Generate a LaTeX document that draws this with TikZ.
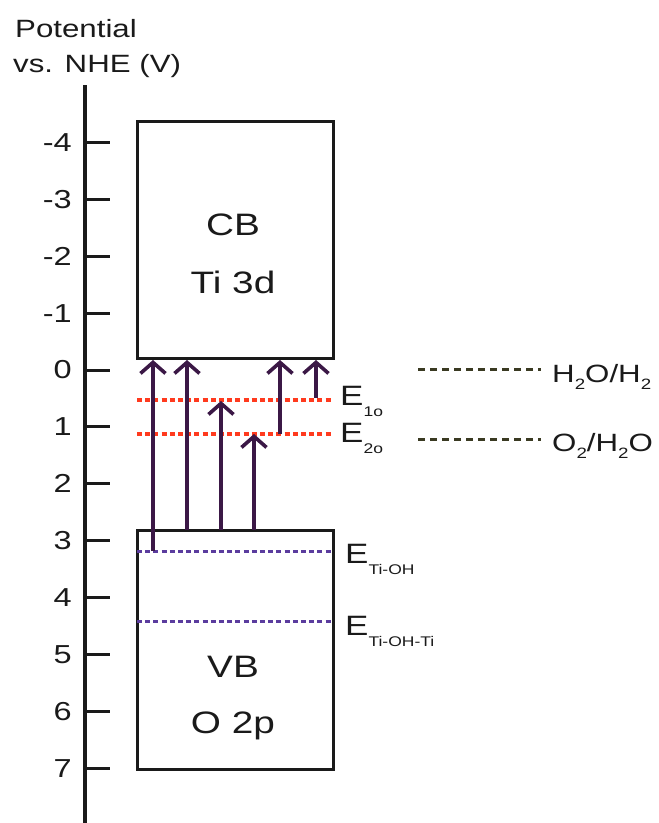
\documentclass[tikz,border=0pt]{standalone}
\usepackage{fontspec}
\setmainfont{Liberation Sans}[FakeStretch=1.25]
\usetikzlibrary{arrows.meta}
\definecolor{ink}{HTML}{1A1A1A}
\definecolor{arrowc}{HTML}{3B1846}
\definecolor{redl}{HTML}{FF3A1E}
\definecolor{purl}{HTML}{5B3C9E}
\definecolor{olive}{HTML}{3A3A22}
\newcommand{\subtx}[2]{\raisebox{-0.4em}{\fontsize{#1}{#1}\selectfont #2}}
\begin{document}
\begin{tikzpicture}[x=1pt,y=-1pt,
  band/.style={draw=ink,line width=3pt,minimum width=196pt,inner sep=0pt},
  axisline/.style={draw=ink,line width=3.8pt},
  tickline/.style={draw=ink,line width=3pt},
  ticklab/.style={anchor=east,inner sep=0pt,font=\fontsize{26}{30}\selectfont,text=ink},
  bigtxt/.style={anchor=base,inner sep=0pt,font=\fontsize{31}{38}\selectfont,text=ink},
  lab/.style={anchor=base west,inner sep=0pt,font=\fontsize{25}{30}\selectfont,text=ink},
  elab/.style={anchor=base west,inner sep=0pt,font=\fontsize{28}{34}\selectfont,text=ink},
  arr/.style={draw=arrowc,line width=3.8pt,-{Straight Barb[length=11pt,width=25pt,line width=3.6pt]}},
  redlev/.style={draw=redl,line width=3.2pt,dash pattern=on 5pt off 3.2pt},
  purlev/.style={draw=purl,line width=3pt,dash pattern=on 5pt off 3.2pt},
  redox/.style={draw=olive,line width=3pt,dash pattern=on 7pt off 5pt}]
\useasboundingbox (0,0) rectangle (659,823);
% axis title
\node[lab] (t1) at (15,37) {Potential};
\node[lab] (t2) at (13,72) {vs. NHE (V)};
% axis
\coordinate (axtop) at (85,85);
\coordinate (axbot) at (85,823);
\draw[axisline] (axtop) -- (axbot);
\foreach \v/\y in {-4/142.4,-3/199.3,-2/256.2,-1/313.1,0/370,1/426.9,2/483.8,3/540.7,4/597.6,5/654.5,6/711.4,7/768.3}{
  \coordinate (tk\v) at (86,\y);
  \coordinate (te\v) at (110,\y);
  \draw[tickline] (tk\v) -- (te\v);
  \node[ticklab] (tl\v) at (72,\y) {\v};
}
% bands
\node[band,minimum height=237pt] (cb) at (235,239.5) {};
\node[band,minimum height=239pt] (vb) at (235,649.5) {};
\node[bigtxt] (cbt) at (233,235) {CB};
\node[bigtxt] (cbs) at (233,293) {Ti 3d};
\node[bigtxt] (vbt) at (233,677) {VB};
\node[bigtxt] (vbs) at (233,733) {O 2p};
% defect levels
\coordinate (e1l) at (137,400); \coordinate (e1r) at (333,400);
\coordinate (e2l) at (137,434); \coordinate (e2r) at (333,434);
\coordinate (e3l) at (137,551); \coordinate (e3r) at (333,551);
\coordinate (e4l) at (137,621); \coordinate (e4r) at (333,621);
\draw[redlev] (e1l) -- (e1r);
\draw[redlev] (e2l) -- (e2r);
\draw[purlev] (e3l) -- (e3r);
\draw[purlev] (e4l) -- (e4r);
\node[elab] (e1t) at (340,405) {E\subtx{14}{1o}};
\node[elab] (e2t) at (340,442) {E\subtx{14}{2o}};
\node[elab] (e3t) at (345,563) {E\subtx{14}{Ti-OH}};
\node[elab] (e4t) at (345,635) {E\subtx{14}{Ti-OH-Ti}};
% redox levels
\coordinate (r1l) at (418,369); \coordinate (r1r) at (541,369);
\coordinate (r2l) at (418,439); \coordinate (r2r) at (541,439);
\draw[redox] (r1l) -- (r1r);
\draw[redox] (r2l) -- (r2r);
\node[lab] (r1t) at (552,382) {H\raisebox{-0.3em}{\fontsize{15}{15}\selectfont 2}O/H\raisebox{-0.3em}{\fontsize{15}{15}\selectfont 2}};
\node[lab] (r2t) at (552,451) {O\raisebox{-0.3em}{\fontsize{15}{15}\selectfont 2}/H\raisebox{-0.3em}{\fontsize{15}{15}\selectfont 2}O};
% transitions
\coordinate (a1s) at (153,551); \coordinate (a1e) at (153,360);
\coordinate (a2s) at (187,530); \coordinate (a2e) at (187,360);
\coordinate (a3s) at (221,530); \coordinate (a3e) at (221,401);
\coordinate (a4s) at (254,530); \coordinate (a4e) at (254,434);
\coordinate (a5s) at (280,434); \coordinate (a5e) at (280,360);
\coordinate (a6s) at (316,398); \coordinate (a6e) at (316,360);
\draw[arr] (a1s) -- (a1e);
\draw[arr] (a2s) -- (a2e);
\draw[arr] (a3s) -- (a3e);
\draw[arr] (a4s) -- (a4e);
\draw[arr] (a5s) -- (a5e);
\draw[arr] (a6s) -- (a6e);
\end{tikzpicture}
\end{document}
